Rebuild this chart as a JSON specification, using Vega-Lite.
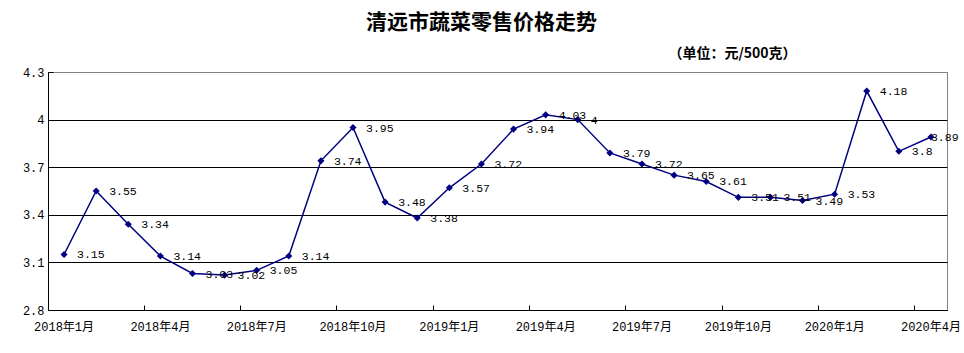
{
  "$schema": "https://vega.github.io/schema/vega-lite/v6.json",
  "width": 899,
  "height": 238,
  "autosize": {"type": "none"},
  "padding": {"left": 48, "top": 72, "right": 17, "bottom": 43},
  "background": "white",
  "title": {"text": "清远市蔬菜零售价格走势", "anchor": "middle", "dx": -16, "offset": 13, "font": "Noto Sans CJK SC", "fontSize": 21, "fontWeight": "bold", "color": "black"},
  "data": {"values": [
    {"month": "2018年1月", "price": 3.15},
    {"month": "2018年2月", "price": 3.55},
    {"month": "2018年3月", "price": 3.34},
    {"month": "2018年4月", "price": 3.14},
    {"month": "2018年5月", "price": 3.03},
    {"month": "2018年6月", "price": 3.02},
    {"month": "2018年7月", "price": 3.05},
    {"month": "2018年8月", "price": 3.14},
    {"month": "2018年9月", "price": 3.74},
    {"month": "2018年10月", "price": 3.95},
    {"month": "2018年11月", "price": 3.48},
    {"month": "2018年12月", "price": 3.38},
    {"month": "2019年1月", "price": 3.57},
    {"month": "2019年2月", "price": 3.72},
    {"month": "2019年3月", "price": 3.94},
    {"month": "2019年4月", "price": 4.03},
    {"month": "2019年5月", "price": 4.0},
    {"month": "2019年6月", "price": 3.79},
    {"month": "2019年7月", "price": 3.72},
    {"month": "2019年8月", "price": 3.65},
    {"month": "2019年9月", "price": 3.61},
    {"month": "2019年10月", "price": 3.51},
    {"month": "2019年11月", "price": 3.51},
    {"month": "2019年12月", "price": 3.49},
    {"month": "2020年1月", "price": 3.53},
    {"month": "2020年2月", "price": 4.18},
    {"month": "2020年3月", "price": 3.8},
    {"month": "2020年4月", "price": 3.89}
  ]},
  "encoding": {
    "x": {
      "field": "month", "type": "ordinal", "sort": null,
      "scale": {"type": "band", "paddingInner": 0, "paddingOuter": 0},
      "axis": {
        "values": ["2018年1月", "2018年4月", "2018年7月", "2018年10月", "2019年1月", "2019年4月", "2019年7月", "2019年10月", "2020年1月", "2020年4月"],
        "bandPosition": 0, "labelAngle": 0,
        "tickSize": -5, "tickColor": "black", "domainColor": "black",
        "labelFont": "Liberation Mono, Noto Sans CJK SC", "labelFontSize": 12, "labelColor": "black",
        "labelPadding": 16, "title": null, "grid": false, "labelOverlap": false
      }
    },
    "y": {
      "field": "price", "type": "quantitative",
      "scale": {"domain": [2.8, 4.3], "nice": false, "zero": false},
      "axis": {
        "values": [2.8, 3.1, 3.4, 3.7, 4.0, 4.3], "format": ".2~g",
        "grid": true,
        "gridColor": {"condition": {"test": "datum.value >= 4.29", "value": "#808080"}, "value": "black"},
        "gridOpacity": 1,
        "tickSize": -5, "tickColor": "black", "domainColor": "black",
        "labelFont": "Liberation Mono", "labelFontSize": 12, "labelColor": "black", "labelPadding": 9,
        "title": "（单位：元/500克）", "titleAngle": 0, "titleX": 684, "titleY": -19,
        "titleAlign": "center", "titleBaseline": "middle",
        "titleFont": "Noto Sans CJK SC", "titleFontSize": 14, "titleFontWeight": "bold", "titleColor": "black"
      }
    }
  },
  "layer": [
    {"mark": {"type": "line", "color": "#000080", "strokeWidth": 1.5}},
    {"mark": {"type": "point", "shape": "diamond", "filled": true, "size": 50, "color": "#000080", "opacity": 1}},
    {"transform": [{"filter": "datum.month != '2020年4月'"}],
     "mark": {"type": "text", "align": "left", "baseline": "middle", "dx": 13, "dy": 1, "font": "Liberation Mono", "fontSize": 11.5, "color": "black"},
     "encoding": {"text": {"field": "price", "type": "quantitative", "format": ".3~g"}}},
    {"transform": [{"filter": "datum.month == '2020年4月'"}],
     "mark": {"type": "text", "align": "left", "baseline": "middle", "dx": 0, "dy": 1, "font": "Liberation Mono", "fontSize": 11.5, "color": "black"},
     "encoding": {"text": {"field": "price", "type": "quantitative", "format": ".3~g"}}}
  ],
  "config": {"view": {"stroke": "#808080", "strokeWidth": 1}}
}
